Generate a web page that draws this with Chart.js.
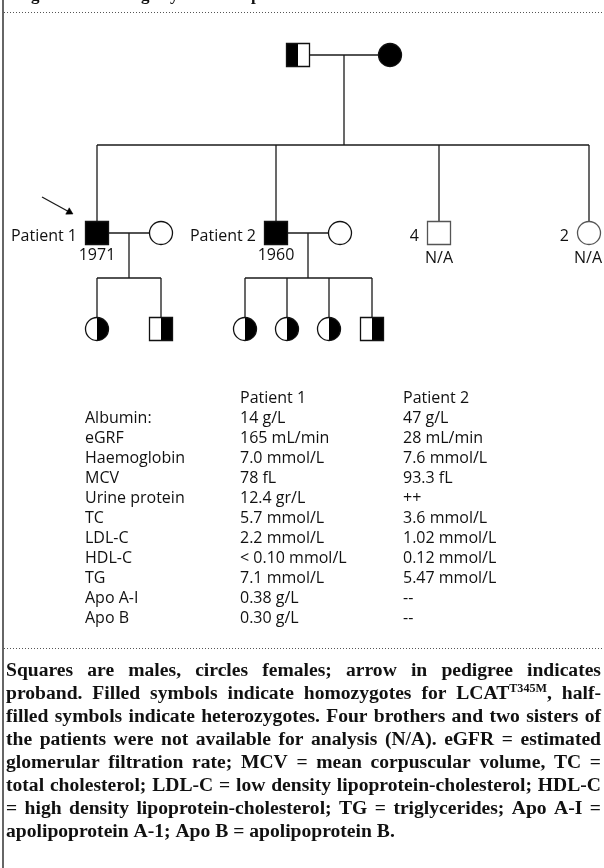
<!DOCTYPE html>
<html><head><meta charset="utf-8">
<script src="https://cdn.jsdelivr.net/npm/chart.js@4"></script>
<style>html,body{margin:0;padding:0;background:#fff;}canvas{display:block;}</style>
</head><body>
<canvas id="c" width="604" height="868"></canvas>
<script>
// ---------------- DATA ----------------
// Pedigree members
const members  = ['father','mother','patient1','wife1','patient2','wife2','brothers','sisters','p1d1','p1s1','p2d1','p2d2','p2d3','p2s1'];
const sex      = ['M','F','M','F','M','F','M','F','F','M','F','F','F','M'];
const genotype = ['het','hom','hom','none','hom','none','na','na','het','het','het','het','het','het'];
const sideLabels  = ['','','Patient 1','','Patient 2','','4','2','','','','','',''];
const belowLabels = ['','','1971','','1960','','N/A','N/A','','','','','',''];
const couples   = [['father','mother'],['patient1','wife1'],['patient2','wife2']];
const offspring = [['patient1','patient2','brothers','sisters'],['p1d1','p1s1'],['p2d1','p2d2','p2d3','p2s1']];
const proband = 'patient1';

// Laboratory table
const columnHeaders = ['Patient 1','Patient 2'];
const parameters = ['Albumin:','eGRF','Haemoglobin','MCV','Urine protein','TC','LDL-C','HDL-C','TG','Apo A-I','Apo B'];
const patient1   = ['14 g/L','165 mL/min','7.0 mmol/L','78 fL','12.4 gr/L','5.7 mmol/L','2.2 mmol/L','< 0.10 mmol/L','7.1 mmol/L','0.38 g/L','0.30 g/L'];
const patient2   = ['47 g/L','28 mL/min','7.6 mmol/L','93.3 fL','++','3.6 mmol/L','1.02 mmol/L','0.12 mmol/L','5.47 mmol/L','--','--'];

// Caption
const captionLines = [
  'Squares are males, circles females; arrow in pedigree indicates',
  'proband. Filled symbols indicate homozygotes for LCAT^{T345M}, half-',
  'filled symbols indicate heterozygotes. Four brothers and two sisters of',
  'the patients were not available for analysis (N/A). eGFR = estimated',
  'glomerular filtration rate; MCV = mean corpuscular volume, TC =',
  'total cholesterol; LDL-C = low density lipoprotein-cholesterol; HDL-C',
  '= high density lipoprotein-cholesterol; TG = triglycerides; Apo A-I =',
  'apolipoprotein A-1; Apo B = apolipoprotein B.'
];
const topFragments = ['g','g','y','p'];

// ---------------- LAYOUT (positions in scale units) ----------------
const layoutX = {father:298, mother:390, patient1:97, wife1:161, patient2:276, wife2:340, brothers:439, sisters:589,
                 p1d1:97, p1s1:161, p2d1:245, p2d2:287, p2d3:329, p2s1:372};
const generationY = [55, 233, 329];
const sibshipY = [145, 278];
const memberGen = {father:0, mother:0, patient1:1, wife1:1, patient2:1, wife2:1, brothers:1, sisters:1,
                   p1d1:2, p1s1:2, p2d1:2, p2d2:2, p2d3:2, p2s1:2};
const arrowLayout = {from:[42,197], to:[73,214]};
const tableLayout = {labelX:85, col1X:240, col2X:403, headerY:398, firstRowY:418, rowStep:20};
const captionLayout = {left:6, right:601, firstBaseline:676, lineStep:23, dottedY:648};
const topFragmentX = [31, 141, 170, 251];

const SANS = '"Open Sans", "Noto Sans", sans-serif';
const SERIF = '"Liberation Serif", "DejaVu Serif", serif';

// ---------------- SYMBOLS ----------------
function makeSymbol(shape, fill, color) {
  const s = 26, c = document.createElement('canvas');
  c.width = s; c.height = s;
  const g = c.getContext('2d');
  const a = 1.5, w = 23;
  g.lineWidth = 1.3; g.strokeStyle = color;
  g.save();
  g.beginPath();
  if (shape === 'square') g.rect(a, a, w, w); else g.arc(s/2, s/2, w/2, 0, Math.PI*2);
  g.fillStyle = '#fff'; g.fill();
  g.clip();
  g.fillStyle = '#000';
  if (fill === 'full') g.fillRect(0, 0, s, s);
  if (fill === 'left') g.fillRect(0, 0, s/2, s);
  if (fill === 'right') g.fillRect(s/2, 0, s/2, s);
  g.restore();
  g.beginPath();
  if (shape === 'square') g.rect(a, a, w, w); else g.arc(s/2, s/2, w/2, 0, Math.PI*2);
  g.stroke();
  return c;
}
const symbolImages = members.map((m, i) => {
  const shape = sex[i] === 'M' ? 'square' : 'circle';
  let fill = 'none', color = '#111';
  if (genotype[i] === 'hom') fill = 'full';
  if (genotype[i] === 'het') fill = memberGen[m] === 0 ? 'left' : 'right';
  if (genotype[i] === 'na') color = '#555';
  return makeSymbol(shape, fill, color);
});

// ---------------- DATASETS ----------------
const LINE = '#1a1a1a';
function seg(points) {
  return {data: points.map(p => ({x:p[0], y:p[1]})), showLine:true, borderColor:LINE, borderWidth:1.3,
          pointRadius:0, fill:false, order:2, clip:false};
}
const datasets = [];
const pos = m => [layoutX[m], generationY[memberGen[m]]];
couples.forEach((cpl, k) => {
  const [a, b] = cpl.map(pos);
  datasets.push(seg([a, b]));
  const midX = (a[0] + b[0]) / 2;
  const kids = offspring[k];
  const sy = sibshipY[memberGen[cpl[0]]];
  datasets.push(seg([[midX, a[1]], [midX, sy]]));
  const xs = kids.map(m => layoutX[m]);
  datasets.push(seg([[Math.min(...xs), sy], [Math.max(...xs), sy]]));
  kids.forEach(m => { const p = pos(m); datasets.push(seg([[p[0], sy], p])); });
});
// proband arrow
const ang = Math.atan2(arrowLayout.to[1]-arrowLayout.from[1], arrowLayout.to[0]-arrowLayout.from[0]);
const headR = 4.2;
datasets.push(seg([arrowLayout.from, [arrowLayout.to[0]-Math.cos(ang)*headR, arrowLayout.to[1]-Math.sin(ang)*headR]]));
datasets.push({data:[{x:arrowLayout.to[0]-Math.cos(ang)*headR, y:arrowLayout.to[1]-Math.sin(ang)*headR}],
  pointStyle:'triangle', pointRadius:headR, pointRotation: 90 + ang*180/Math.PI,
  backgroundColor:'#000', borderColor:'#000', borderWidth:0.5, order:1, clip:false});
// symbols
datasets.push({data: members.map(m => ({x:pos(m)[0], y:pos(m)[1]})),
  pointStyle: ctx => symbolImages[ctx.dataIndex], pointRadius:12, order:0, clip:false});

// ---------------- TEXT / DECOR PLUGIN ----------------
function parseRuns(word) {
  return word.split(/(\^\{[^}]*\})/).filter(s => s.length).map(s =>
    s.startsWith('^{') ? {t:s.slice(2,-1), sup:true} : {t:s, sup:false});
}
const decor = {
  id:'decor',
  afterDraw(chart) {
    const ctx = chart.ctx, X = chart.scales.x, Y = chart.scales.y;
    const px = v => X.getPixelForValue(v), py = v => Y.getPixelForValue(v);
    ctx.save();
    // frame: left rule, dotted separators
    ctx.fillStyle = '#666';
    ctx.fillRect(px(2), py(0), 2, py(868)-py(0));
    ctx.strokeStyle = '#555'; ctx.lineWidth = 1; ctx.setLineDash([1,2]);
    [12, captionLayout.dottedY].forEach(y => {
      ctx.beginPath(); ctx.moveTo(px(4), py(y)+0.5); ctx.lineTo(px(604), py(y)+0.5); ctx.stroke();
    });
    ctx.setLineDash([]);
    // cut-off title descenders at top
    ctx.fillStyle = '#111'; ctx.font = 'bold 17px ' + SERIF; ctx.textBaseline = 'alphabetic';
    topFragments.forEach((t, i) => ctx.fillText(t, px(topFragmentX[i]), py(0)));

    // pedigree labels
    ctx.font = '16px ' + SANS; ctx.fillStyle = '#111';
    members.forEach((m, i) => {
      const [x, y] = pos(m);
      if (sideLabels[i]) {
        ctx.textAlign = 'right'; ctx.textBaseline = 'alphabetic';
        ctx.fillText(sideLabels[i], px(x - 20), py(y + 7.5));
      }
      if (belowLabels[i]) {
        ctx.textAlign = 'center'; ctx.textBaseline = 'alphabetic';
        const ty = belowLabels[i] === 'N/A' ? 30 : 27;
        ctx.fillText(belowLabels[i], Math.min(px(x), 602 - ctx.measureText(belowLabels[i]).width/2), py(y + ty));
      }
    });

    // table
    ctx.textAlign = 'left'; ctx.textBaseline = 'middle';
    const T = tableLayout;
    ctx.fillText(columnHeaders[0], px(T.col1X), py(T.headerY));
    ctx.fillText(columnHeaders[1], px(T.col2X), py(T.headerY));
    parameters.forEach((p, i) => {
      const y = py(T.firstRowY + i*T.rowStep);
      ctx.fillText(p, px(T.labelX), y);
      ctx.fillText(patient1[i], px(T.col1X), y);
      ctx.fillText(patient2[i], px(T.col2X), y);
    });

    // caption (justified)
    const C = captionLayout;
    const width = px(C.right) - px(C.left);
    const measureWords = (words, fs) => words.map(w => parseRuns(w).reduce((s, r) => {
      ctx.font = 'bold ' + (r.sup ? fs*0.62 : fs) + 'px ' + SERIF; return s + ctx.measureText(r.t).width; }, 0));
    const natural = (line, fs) => { const ws = measureWords(line.split(' '), fs);
      ctx.font = 'bold ' + fs + 'px ' + SERIF; return ws.reduce((a,b)=>a+b,0) + ctx.measureText(' ').width*(ws.length-1); };
    let fs = 17;
    const maxNat = Math.max(...captionLines.slice(0,-1).map(l => natural(l, fs)));
    fs = fs * (width * 0.99) / maxNat;
    ctx.textBaseline = 'alphabetic'; ctx.textAlign = 'left'; ctx.fillStyle = '#111';
    captionLines.forEach((line, li) => {
      const words = line.split(' ');
      const ws = measureWords(words, fs);
      const total = ws.reduce((a,b)=>a+b,0);
      ctx.font = 'bold ' + fs + 'px ' + SERIF;
      const gap = li < captionLines.length - 1 ? (width - total) / (words.length - 1) : ctx.measureText(' ').width;
      let x = px(C.left);
      const y = py(C.firstBaseline + li*C.lineStep);
      words.forEach((w) => {
        parseRuns(w).forEach(r => {
          ctx.font = 'bold ' + (r.sup ? fs*0.62 : fs) + 'px ' + SERIF;
          ctx.fillText(r.t, x, r.sup ? y - fs*0.36 : y);
          x += ctx.measureText(r.t).width;
        });
        x += gap;
      });
    });
    ctx.restore();
  }
};

new Chart(document.getElementById('c'), {
  type:'scatter',
  data:{datasets},
  options:{
    responsive:false, animation:false, events:[],
    layout:{padding:0, autoPadding:false},
    scales:{
      x:{type:'linear', min:0, max:604, display:false},
      y:{type:'linear', min:0, max:868, reverse:true, display:false}
    },
    plugins:{legend:{display:false}, tooltip:{enabled:false}}
  },
  plugins:[decor]
});
</script>
</body></html>
